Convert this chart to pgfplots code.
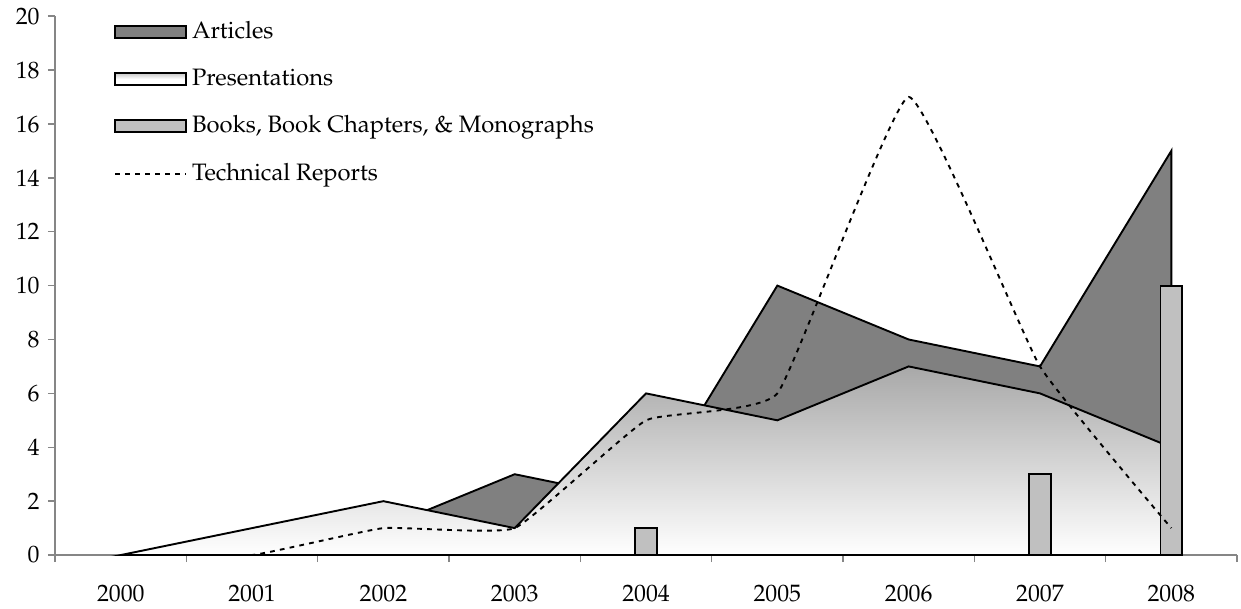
\documentclass[border=0pt]{standalone}
\usepackage[T1]{fontenc}
\usepackage{mathpazo}
\usepackage{pgfplots}
\pgfplotsset{compat=1.18}
\definecolor{artc}{HTML}{808080}
\definecolor{bookc}{HTML}{C0C0C0}
\definecolor{axc}{HTML}{868686}
\begin{document}
\begin{tikzpicture}
\begin{axis}[
  at={(0,0)}, anchor=south west,
  scale only axis, width=497.6pt, height=226.9pt,
  xmin=-0.5, xmax=8.5, ymin=0, ymax=20,
  axis x line=bottom, axis y line=left,
  axis line style={draw=axc, line width=0.6pt, -},
  xtick={0,1,2,3,4,5,6,7,8},
  xticklabels={2000,2001,2002,2003,2004,2005,2006,2007,2008},
  minor xtick={-0.5,0.5,1.5,2.5,3.5,4.5,5.5,6.5,7.5,8.5},
  major x tick style={draw=none},
  minor x tick style={draw=axc, line width=0.6pt},
  ytick={0,2,...,20},
  y tick style={draw=axc, line width=0.6pt},
  tick align=outside,
  major tick length=3pt, minor tick length=3pt,
  xticklabel style={yshift=-6pt},
  tick label style={font=\fontsize{10}{12}\selectfont},
  legend style={at={(0.0498,1.0)}, anchor=north west, draw=none, fill=none,
    inner sep=0pt, row sep=7.3pt, column sep=0pt,
    font=\fontsize{10}{12}\selectfont},
  legend cell align=left,
]
\addplot[draw=black, line width=0.8pt, fill=artc,
  legend image code/.code={\draw[black, line width=0.8pt, fill=artc] (0pt,-2.6pt) rectangle (29.9pt,2.6pt);}]
  coordinates {(0,0) (1,0) (2,1) (3,3) (4,2) (5,10) (6,8) (7,7) (8,15)} \closedcycle;
\addlegendentry{Articles}
\addplot[draw=black, line width=0.8pt, top color=gray!68, bottom color=white,
  legend image code/.code={\draw[black, line width=0.8pt, top color=gray!45, bottom color=white, middle color=white] (0pt,-2.6pt) rectangle (29.9pt,2.6pt);}]
  coordinates {(0,0) (1,1) (2,2) (3,1) (4,6) (5,5) (6,7) (7,6) (8,4)} \closedcycle;
\addlegendentry{Presentations}
\addplot[ybar, bar width=9.1pt, draw=black, line width=0.8pt, fill=bookc,
  legend image code/.code={\draw[black, line width=0.8pt, fill=bookc] (0pt,-2.6pt) rectangle (29.9pt,2.6pt);}]
  coordinates {(4,1) (7,3) (8,10)};
\addlegendentry{Books, Book Chapters, \& Monographs}
\addplot[black, line width=0.8pt, dash pattern=on 2pt off 2.2pt, smooth, tension=0.22,
  legend image code/.code={\draw[black, line width=0.8pt, dash pattern=on 2pt off 2.2pt] (0pt,0pt) -- (29.9pt,0pt);}]
  coordinates {(0,0) (1,0) (2,1) (3,1) (4,5) (5,6) (6,17) (7,7) (8,1)};
\addlegendentry{Technical Reports}
\end{axis}
\pgfresetboundingbox
\path (-23.2pt,-22.3pt) rectangle (499.3pt,233.7pt);
\end{tikzpicture}
\end{document}
